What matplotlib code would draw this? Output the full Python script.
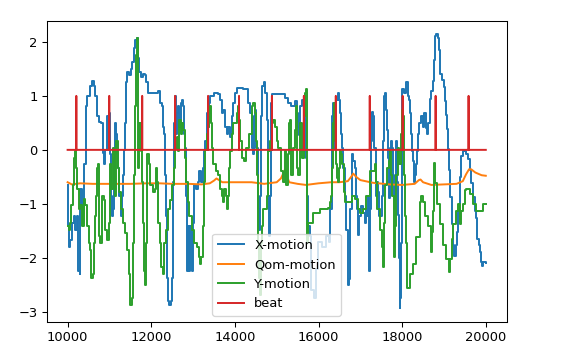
import numpy as np
import matplotlib
matplotlib.use("Agg")
import matplotlib.pyplot as plt

# X-motion trace (sample index, value)
x_motion_t = [10000, 10010, 10024, 10064, 10103, 10143, 10183, 10223, 10247, 10287,
              10303, 10342, 10366, 10398, 10430, 10462, 10525, 10581, 10621, 10661,
              10700, 10757, 10800, 10840, 10870, 10900, 10950, 10979, 11010, 11040,
              11059, 11080, 11100, 11123, 11150, 11180, 11210, 11240, 11266, 11290,
              11320, 11350, 11375, 11401, 11430, 11470, 11510, 11550, 11590, 11616,
              11648, 11672, 11700, 11752, 11800, 11840, 11880, 11919, 11974, 12173,
              12213, 12253, 12292, 12308, 12332, 12356, 12388, 12412, 12436, 12468,
              12491, 12515, 12531, 12555, 12571, 12595, 12619, 12651, 12674, 12706,
              12738, 12770, 12794, 12818, 12834, 12850, 12866, 12889, 12913, 12937,
              12969, 12993, 13025, 13072, 13112, 13152, 13192, 13232, 13271, 13295,
              13327, 13351, 13383, 13414, 13510, 13605, 13645, 13685, 13725, 13765,
              13804, 13844, 13884, 13924, 13964, 14003, 14043, 14202, 14282, 14322,
              14362, 14401, 14425, 14449, 14481, 14513, 14545, 14577, 14600, 14624,
              14656, 14688, 14719, 14759, 14783, 14807, 14831, 14855, 14879, 15038,
              15197, 15277, 15332, 15436, 15476, 15515, 15539, 15563, 15603, 15643,
              15667, 15691, 15714, 15738, 15790, 15830, 15880, 15930, 15980, 16080,
              16180, 16240, 16280, 16311, 16351, 16375, 16407, 16454, 16486, 16510,
              16534, 16550, 16590, 16629, 16669, 16700, 16730, 16760, 16789, 16812,
              16836, 16868, 16908, 16932, 16948, 16972, 17011, 17067, 17107, 17147,
              17171, 17187, 17210, 17234, 17250, 17273, 17306, 17337, 17369, 17401,
              17425, 17449, 17513, 17528, 17544, 17568, 17592, 17624, 17648, 17664,
              17688, 17720, 17743, 17767, 17783, 17799, 17823, 17863, 17887, 17911,
              17926, 17942, 17958, 17974, 17990, 18006, 18046, 18086, 18133, 18157,
              18181, 18205, 18229, 18253, 18277, 18301, 18324, 18348, 18372, 18396,
              18444, 18492, 18516, 18563, 18600, 18627, 18660, 18700, 18738, 18762,
              18786, 18818, 18850, 18873, 18897, 18961, 18993, 19025, 19057, 19080,
              19104, 19128, 19152, 19184, 19216, 19248, 19279, 19311, 19343, 19375,
              19415, 19455, 19494, 19534, 19574, 19614, 19653, 19693, 19733, 19773,
              19797, 19829, 19852, 19876, 19900, 19932, 20000]
x_motion = [-0.65, -1.40, -1.80, -1.67, -1.35, -1.23, -1.48, -1.23, -2.24, -2.30,
            -0.72, -1.10, -1.35, -0.27, 0.81, 1.00, 1.19, 1.28, 1.19, 1.00,
            0.62, 0.52, 0.49, -0.05, -0.27, 0.00, 0.62, 0.68, -0.08, -0.85,
            -1.23, -1.10, -0.15, 0.49, 0.30, -0.08, -0.34, -0.85, -1.23, -0.85,
            -0.46, 0.00, 0.49, 1.25, 1.44, 1.38, 1.50, 1.63, 1.89, 2.04,
            2.08, 1.70, 1.44, 1.35, 1.41, 1.38, 1.25, 1.06, 1.06, 1.09,
            0.87, 0.81, 0.43, 0.30, -0.46, -1.23, -2.37, -2.81, -2.88, -2.81,
            -2.37, -1.73, -0.59, 0.49, 1.00, 0.30, 0.68, 0.81, 0.43, 0.87,
            0.93, 0.81, 0.30, 0.04, -0.85, -1.42, -2.24, -1.42, -2.24, -1.42,
            -2.24, -1.35, -0.65, -0.72, -0.59, -0.40, -0.59, -0.34, -0.02, 0.17,
            0.68, 0.43, 0.87, 1.00, 1.06, 1.03, 0.93, 0.68, 0.74, 0.43,
            0.30, 0.43, 0.24, 0.62, 0.87, 1.06, 1.14, 1.12, 1.12, 0.87,
            0.68, 0.04, -0.08, 0.62, 0.74, 0.04, -1.10, -1.48, -0.85, 0.62,
            1.19, 1.26, 1.06, 0.55, -0.85, -1.60, -0.85, 0.87, 1.03, 1.03,
            0.96, 0.87, 0.81, 0.90, 0.68, 0.43, 0.27, 0.81, 0.93, 1.00,
            0.55, -0.15, -0.85, -1.42, -1.60, -2.60, -2.75, -2.20, -1.70, -1.80,
            -1.60, -1.70, -1.10, 0.62, 0.87, 0.04, 0.93, 1.06, 0.93, 0.68,
            0.30, 0.04, -0.34, -0.85, -1.48, -2.50, -2.40, -1.10, -0.27, -0.08,
            -0.20, -0.34, -0.85, -1.10, -1.57, -1.23, -1.04, -1.17, -1.35, -1.10,
            -1.23, -0.85, -2.24, -1.10, 0.17, 0.71, 0.62, 0.04, -0.85, -0.59,
            -0.78, -1.23, -1.10, -0.85, 0.17, 1.00, 1.06, 0.74, 0.36, -0.15,
            -0.90, 0.04, 0.17, 0.04, -0.65, -1.10, -0.46, 0.17, -0.60, -1.20,
            -2.00, -2.94, -2.75, -1.73, 0.17, 1.12, 1.06, 1.25, 1.00, 0.93,
            0.68, 0.30, -0.02, -0.21, -0.59, -0.46, -0.27, -0.02, 0.30, 0.49,
            0.62, 0.43, 0.68, 0.40, 0.30, 0.50, 0.95, 1.09, 1.28, 1.66,
            2.11, 2.14, 2.08, 1.85, 1.41, 1.29, 1.16, 0.90, 0.65, 0.39,
            0.01, -0.37, -0.88, -1.38, -1.77, -1.96, -1.77, -1.52, -1.14, -0.50,
            -0.11, -0.02, -0.02, -0.08, -0.17, -0.37, -0.62, -0.88, -1.14, -1.27,
            -1.65, -1.77, -1.90, -2.08, -2.15, -2.08, -2.10]

# Qom-motion trace
qom_t = [10000, 10100, 10300, 10600, 11000, 11500, 11900, 12200, 12500, 12900,
         13200, 13400, 13500, 13560, 13620, 13700, 14000, 14400, 14700, 15000,
         15100, 15150, 15200, 15230, 15260, 15300, 15500, 15700, 16000, 16300,
         16500, 16700, 16780, 16830, 16900, 17000, 17300, 17700, 18000, 18300,
         18400, 18440, 18500, 18700, 19000, 19300, 19450, 19530, 19600, 19650,
         19750, 19900, 20000]
qom_motion = [-0.60, -0.64, -0.62, -0.63, -0.63, -0.63, -0.62, -0.62, -0.63, -0.63,
              -0.64, -0.62, -0.57, -0.53, -0.56, -0.60, -0.60, -0.60, -0.63, -0.60,
              -0.53, -0.45, -0.36, -0.38, -0.52, -0.60, -0.63, -0.65, -0.62, -0.60,
              -0.60, -0.58, -0.50, -0.44, -0.50, -0.56, -0.61, -0.64, -0.65, -0.63,
              -0.56, -0.55, -0.60, -0.65, -0.64, -0.63, -0.58, -0.45, -0.36, -0.36,
              -0.42, -0.47, -0.48]

# Y-motion trace
y_motion_t = [10000, 10024, 10064, 10088, 10120, 10143, 10175, 10207, 10231, 10263,
              10303, 10342, 10382, 10422, 10462, 10501, 10541, 10565, 10597, 10621,
              10645, 10677, 10700, 10730, 10741, 10780, 10820, 10860, 10900, 10948,
              10979, 11003, 11035, 11075, 11107, 11139, 11163, 11194, 11234, 11274,
              11314, 11361, 11417, 11457, 11497, 11529, 11553, 11577, 11600, 11624,
              11648, 11672, 11688, 11712, 11744, 11775, 11799, 11823, 11847, 11871,
              11895, 11935, 11982, 12030, 12078, 12093, 12117, 12149, 12173, 12213,
              12237, 12292, 12316, 12356, 12396, 12452, 12499, 12539, 12579, 12611,
              12643, 12674, 12706, 12738, 12770, 12802, 12834, 12873, 12913, 12969,
              13025, 13088, 13136, 13168, 13200, 13232, 13264, 13295, 13327, 13351,
              13383, 13406, 13430, 13462, 13486, 13542, 13589, 13645, 13701, 13725,
              13749, 13780, 13804, 13828, 13868, 13892, 13924, 13964, 14043, 14083,
              14107, 14131, 14163, 14210, 14274, 14338, 14401, 14425, 14481, 14505,
              14529, 14545, 14561, 14577, 14600, 14624, 14640, 14680, 14759, 14799,
              14839, 14879, 14918, 14958, 14998, 15038, 15094, 15157, 15197, 15221,
              15261, 15300, 15316, 15332, 15396, 15436, 15460, 15476, 15515, 15563,
              15595, 15643, 15675, 15691, 15714, 15730, 15754, 15874, 16033, 16231,
              16271, 16295, 16327, 16351, 16367, 16391, 16407, 16430, 16454, 16486,
              16510, 16534, 16566, 16613, 16645, 16709, 16789, 16868, 16948, 16988,
              17067, 17147, 17226, 17306, 17345, 17369, 17409, 17465, 17513, 17544,
              17568, 17592, 17648, 17688, 17704, 17743, 17767, 17799, 17815, 17831,
              17863, 17903, 17926, 17966, 17998, 18022, 18038, 18062, 18086, 18117,
              18181, 18261, 18340, 18420, 18460, 18500, 18539, 18619, 18682, 18706,
              18730, 18754, 18770, 18786, 18826, 18897, 18977, 19057, 19120, 19152,
              19184, 19216, 19295, 19335, 19375, 19399, 19455, 19494, 19534, 19614,
              19693, 19773, 19852, 19932, 20000]
y_motion = [-1.42, -1.48, -1.35, -1.03, -0.65, -0.15, -0.02, -0.34, -0.72, -1.10,
            -1.03, -1.42, -0.91, -1.03, -1.42, -1.73, -1.86, -2.37, -2.30, -1.73,
            -1.23, -0.85, -0.34, -0.27, -1.60, -1.73, -0.85, -0.92, -1.48, -1.67,
            -1.35, -0.27, -0.72, 0.04, -0.08, -0.85, 0.17, -0.34, -0.78, -1.10,
            -1.35, -1.54, -1.86, -2.30, -2.88, -2.75, -1.73, -0.46, 0.81, 1.76,
            2.08, 1.44, -0.34, 0.49, -0.02, -0.59, -1.35, -2.24, -2.50, -1.73,
            -0.08, -0.27, -0.65, -0.78, -0.72, -0.72, -0.34, -0.59, -1.35, -1.73,
            -2.18, -2.30, -1.73, -1.48, -1.10, -0.92, -0.65, -0.34, 0.04, 0.23,
            -0.02, 0.55, 0.30, 0.49, 0.36, -0.15, -0.59, -0.97, -1.23, -1.48,
            -1.73, -1.80, -1.99, -2.12, -1.99, -1.42, -0.59, 0.00, 0.30, 0.43,
            0.68, 0.81, 0.49, 0.04, -0.27, -0.40, -0.46, -0.72, -0.85, -0.97,
            -0.72, -0.85, -1.10, -0.85, -0.34, -0.02, 0.30, 0.49, 0.68, 0.81,
            0.55, 0.17, -0.15, -0.21, 0.04, 0.30, 0.81, 0.87, 0.68, 0.17,
            -0.46, -0.97, -1.73, -2.37, -2.69, -1.73, -1.42, -1.10, -0.85, -0.02,
            0.17, 0.49, 0.55, 0.43, 0.17, 0.04, -0.40, -0.59, -0.02, -0.65,
            -0.08, 0.49, 0.55, -0.46, 0.04, 0.36, 0.81, -0.34, -0.46, 0.49,
            -0.15, 0.62, 1.06, 1.12, -1.10, -1.73, -1.35, -1.17, -1.10, -1.07,
            -0.97, -0.85, -0.34, 0.49, 0.87, 0.17, -0.27, -0.53, -0.59, -0.34,
            -0.02, -0.08, -0.27, -0.78, -0.97, -0.97, -0.85, -0.91, -1.10, -1.17,
            -1.10, -0.85, -0.40, -0.40, -0.27, -0.59, -1.10, -1.48, -1.80, -2.18,
            -1.35, -0.65, -0.34, -0.21, -0.02, -0.46, -0.85, -1.73, -1.99, -1.42,
            -0.46, 0.04, -0.27, 0.30, 0.74, 0.62, -0.46, -1.23, -1.73, -2.56,
            -2.30, -2.12, -1.61, -0.97, -0.85, -0.97, -1.23, -1.42, -1.90, -1.52,
            -1.14, -0.37, -0.24, -0.62, -1.00, -1.38, -1.77, -2.03, -2.27, -2.03,
            -1.65, -1.38, -1.14, -1.00, -1.38, -1.14, -1.00, -0.75, -0.72, -0.81,
            -1.01, -1.14, -1.14, -1.01, -1.00]

# beat onsets (value 1 on these samples, 0 elsewhere)
beat_times = [10208, 10995, 11783, 12571, 13359, 14099, 14886, 15650, 16414,
              17226, 18013, 18801, 19589]
beat_start, beat_end = 10000, 20000


def main():
    # beat series: zero everywhere except a one-sample pulse at each onset
    beat_t = [beat_start]
    beat = [0]
    for t in beat_times:
        beat_t += [t - 1, t, t + 1]
        beat += [0, 1, 0]
    beat_t.append(beat_end)
    beat.append(0)

    dpi = 94
    fig = plt.figure(figsize=(562 / dpi, 363 / dpi), dpi=dpi)
    ax = fig.add_axes([0.0831, 0.1124, 0.8185, 0.8306])
    # motion signals are sample-and-hold, so draw them as steps
    ax.plot(x_motion_t, x_motion, drawstyle='steps-post', label='X-motion')
    ax.plot(qom_t, qom_motion, label='Qom-motion')
    ax.plot(y_motion_t, y_motion, drawstyle='steps-post', label='Y-motion')
    ax.plot(beat_t, beat, label='beat')
    ax.set_yticks([-3, -2, -1, 0, 1, 2])
    ax.set_xticks([10000, 12000, 14000, 16000, 18000, 20000])
    ax.legend(loc='lower center')
    fig.savefig('out.png', dpi=dpi)


if __name__ == '__main__':
    main()
